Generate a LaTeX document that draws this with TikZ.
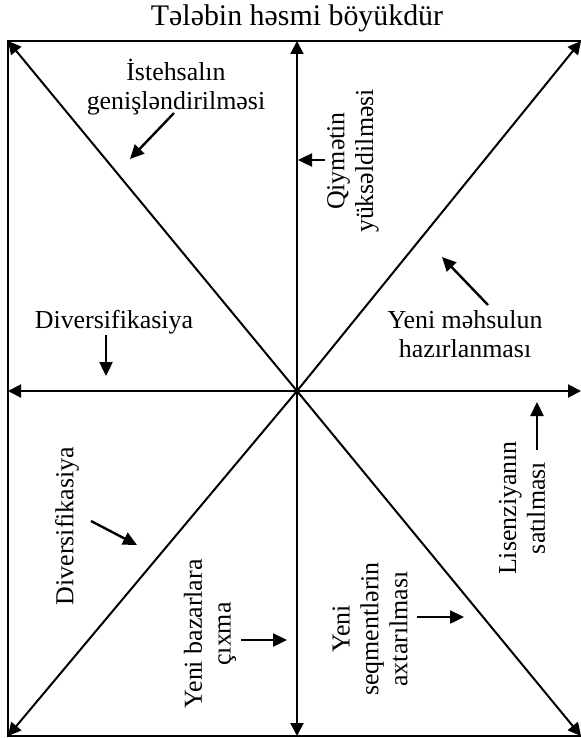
\documentclass[tikz,border=0pt]{standalone}
\usepackage{fontspec}
\setmainfont{Liberation Serif}
\usetikzlibrary{arrows.meta}

\begin{document}
\begin{tikzpicture}[
  x=1bp, y=-1bp,
  axis/.style={line width=2bp, -{Triangle[length=13bp,width=13bp]}},
  pointer/.style={line width=2.4bp, -{Triangle[length=14bp,width=13bp]}},
  lbl/.style={align=center, inner sep=0pt, font=\fontsize{26}{29}\selectfont},
  vlbl/.style={lbl, rotate=90}
]
\useasboundingbox (0,0) rectangle (581,738);

% frame (right side falls off the page)
\draw[line width=2.2bp] (584,41) -- (8,41) -- (8,736) -- (584,736);

\coordinate (o) at (297,391);
\coordinate (n) at (297,41);
\coordinate (s) at (297,736);
\coordinate (w) at (8,391);
\coordinate (e) at (581,391);
\coordinate (nw) at (8,41);
\coordinate (ne) at (581,41);
\coordinate (sw) at (8,736);
\coordinate (se) at (581,736);

\foreach \d in {n,s,w,e,nw,ne,sw,se}
  \draw[axis] (o) -- (\d);

\node[lbl, font=\fontsize{30}{34}\selectfont] (title) at (297,18) {Tələbin həsmi böyükdür};
\node[lbl] (ist) at (176,87) {İstehsalın\\genişləndirilməsi};
\node[vlbl] (qiy) at (353,161) {Qiymətin\\yüksəldilməsi};
\node[lbl] (mehsul) at (465,334) {Yeni məhsulun\\hazırlanması};
\node[lbl] (div1) at (114,322) {Diversifikasiya};
\node[vlbl] (div2) at (67,526) {Diversifikasiya};
\node[vlbl] (bazar) at (210,634) {Yeni bazarlara\\çıxma};
\node[vlbl] (seqm) at (370,629) {Yeni\\seqmentlərin\\axtarılması};
\node[vlbl] (lisenz) at (522,508) {Lisenziyanın\\satılması};

% short pointers
\coordinate (ist-a) at (174,113);  \coordinate (ist-b) at (130,159);
\coordinate (qiy-a) at (325,160);  \coordinate (qiy-b) at (298,160);
\coordinate (meh-a) at (488,305);  \coordinate (meh-b) at (442,257);
\coordinate (div1-a) at (106,335); \coordinate (div1-b) at (106,376);
\coordinate (div2-a) at (91,521);  \coordinate (div2-b) at (137,545);
\coordinate (baz-a) at (241,640);  \coordinate (baz-b) at (287,640);
\coordinate (seq-a) at (417,617);  \coordinate (seq-b) at (464,617);
\coordinate (lis-a) at (537,450);  \coordinate (lis-b) at (537,402);

\foreach \p in {ist,qiy,meh,div1,div2,baz,seq,lis}
  \draw[pointer] (\p-a) -- (\p-b);
\end{tikzpicture}
\end{document}
